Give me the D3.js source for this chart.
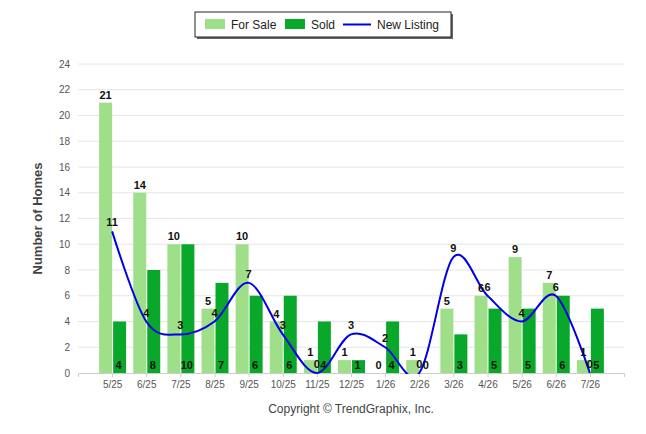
<!DOCTYPE html>
<html><head><meta charset="utf-8">
<script src="https://cdn.jsdelivr.net/npm/d3@7"></script>
<style>body{margin:0;background:#fff;font-family:"Liberation Sans",Arial,sans-serif}</style>
</head><body>
<script>
const months = ["5/25","6/25","7/25","8/25","9/25","10/25","11/25","12/25","1/26","2/26","3/26","4/26","5/26","6/26","7/26"];
const forSale = [21,14,10,5,10,4,1,1,0,1,5,6,9,7,1];
const sold = [4,8,10,7,6,6,4,1,4,0,3,5,5,6,5];
const newListing = [11,4,3,4,7,3,0,3,2,0,9,6,4,6,0];
const yTicks = d3.range(0, 25, 2);

const W = 646, H = 434;
const plotL = 78, plotR = 624, plotT = 64, plotB = 373;
const svg = d3.select("body").append("svg").attr("width", W).attr("height", H);

const x = d3.scaleLinear().domain([0, months.length + 1]).range([plotL, plotR]);
const y = d3.scaleLinear().domain([0, 24]).range([plotB, plotT]);
const bw = 13;

// grid
svg.append("g").selectAll("line").data(yTicks.filter(d => d > 0)).join("line")
  .attr("x1", plotL).attr("x2", plotR).attr("y1", d => y(d)).attr("y2", d => y(d))
  .attr("stroke", "#e6e6e6");

const yAxis = svg.append("g").attr("transform", `translate(${plotL},0)`)
  .call(d3.axisLeft(y).tickValues(yTicks).tickSize(0).tickPadding(8));
yAxis.select(".domain").remove();
yAxis.selectAll("text").attr("fill", "#555").style("font-size", "10px");

const xAxis = svg.append("g").attr("transform", `translate(0,${plotB})`)
  .call(d3.axisBottom(x).tickValues(d3.range(1, months.length + 1)).tickFormat(i => months[i - 1]).tickSize(4).tickPadding(4));
xAxis.select(".domain").attr("stroke", "#ccc");
xAxis.selectAll("line").attr("stroke", "#ccc");
xAxis.selectAll("text").attr("fill", "#555").style("font-size", "10px");

// bars
svg.append("g").selectAll("rect").data(forSale).join("rect")
  .attr("x", (d, i) => x(i + 1) - bw).attr("width", bw)
  .attr("y", d => y(d)).attr("height", d => plotB - y(d)).attr("fill", "#a0df8a");
svg.append("g").selectAll("rect").data(sold).join("rect")
  .attr("x", (d, i) => x(i + 1) + 1).attr("width", bw)
  .attr("y", d => y(d)).attr("height", d => plotB - y(d)).attr("fill", "#0aa82a");

// line
svg.append("clipPath").attr("id", "clip").append("rect")
  .attr("x", plotL).attr("y", plotT - 10).attr("width", plotR - plotL).attr("height", plotB - plotT + 11);
svg.append("path").datum(newListing)
  .attr("clip-path", "url(#clip)")
  .attr("d", d3.line().x((d, i) => x(i + 1)).y(d => y(d)).curve(d3.curveCardinal.tension(0)))
  .attr("fill", "none").attr("stroke", "#0000e6").attr("stroke-width", 2);

// labels
const lab = (data, xf, yf) => svg.append("g").selectAll("text").data(data).join("text")
  .attr("x", xf).attr("y", yf).attr("text-anchor", "middle")
  .style("font-size", "11px").style("font-weight", "bold").attr("fill", "#111").text(d => d);
lab(forSale, (d, i) => x(i + 1) - bw / 2, d => y(d) - 4);
lab(sold, (d, i) => x(i + 1) + bw / 2, () => plotB - 4);
lab(newListing, (d, i) => x(i + 1), d => y(d) - 5);

// y title
svg.append("text").attr("transform", `translate(42,${(plotT + plotB) / 2}) rotate(-90)`)
  .attr("text-anchor", "middle").style("font-size", "13px").style("font-weight", "bold")
  .attr("fill", "#444").text("Number of Homes");

// copyright
svg.append("text").attr("x", 351).attr("y", 413).attr("text-anchor", "middle")
  .style("font-size", "12px").attr("fill", "#444").text("Copyright © TrendGraphix, Inc.");

// legend
const lg = svg.append("g");
lg.append("rect").attr("x", 197).attr("y", 14).attr("width", 256).attr("height", 25).attr("fill", "#666");
lg.append("rect").attr("x", 195).attr("y", 12).attr("width", 256).attr("height", 25).attr("fill", "#fff").attr("stroke", "#222");
const items = [["For Sale", "#a0df8a", 205], ["Sold", "#0aa82a", 285], ["New Listing", "#0000e6", 343]];
items.forEach(([t, c, lx], k) => {
  if (k < 2) lg.append("rect").attr("x", lx).attr("y", 19).attr("width", 20).attr("height", 10).attr("fill", c);
  else lg.append("line").attr("x1", lx).attr("x2", lx + 28).attr("y1", 24.5).attr("y2", 24.5).attr("stroke", c).attr("stroke-width", 2);
  lg.append("text").attr("x", lx + (k < 2 ? 26 : 34)).attr("y", 29).style("font-size", "12px").attr("fill", "#222").text(t);
});
</script>
</body></html>
